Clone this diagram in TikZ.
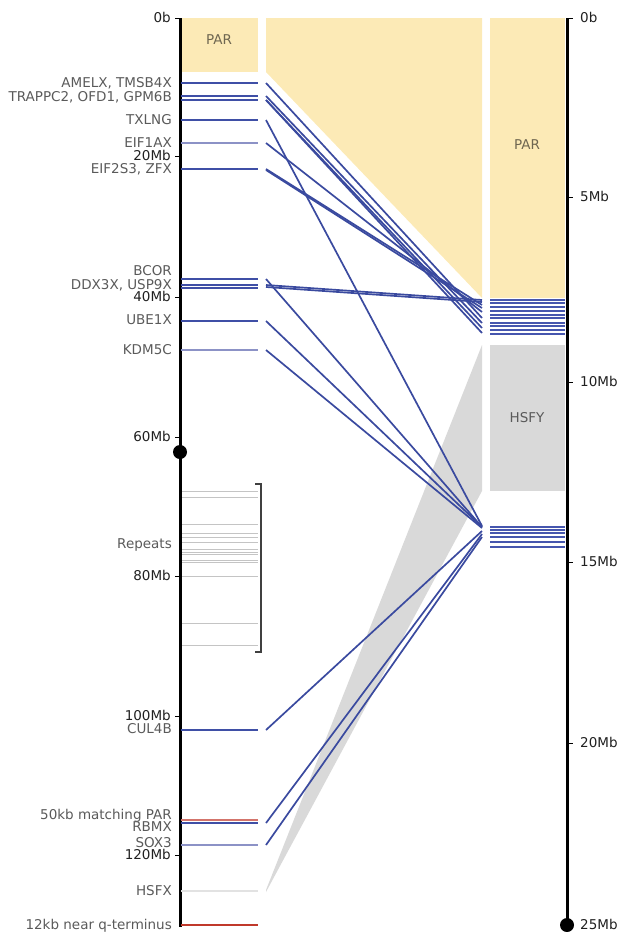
\documentclass[tikz,border=0pt]{standalone}
\usepackage{fontspec}
\setmainfont{DejaVu Sans}
\usetikzlibrary{calc}
\definecolor{paryellow}{HTML}{FCEAB6}
\definecolor{hsfygray}{HTML}{D9D9D9}
\definecolor{geneblue}{HTML}{3F4FA6}
\definecolor{lightblue}{HTML}{8C92C6}
\definecolor{rightblue}{HTML}{4656AE}
\definecolor{connblue}{HTML}{3A4A9F}
\definecolor{repgray}{HTML}{C4C4C4}
\definecolor{hsfxgray}{HTML}{E2E2E2}
\definecolor{parred}{HTML}{C0392B}
\definecolor{labgray}{HTML}{5A5A5A}
\definecolor{pargray}{HTML}{6E6650}
\definecolor{tickblack}{HTML}{202020}

\begin{document}
\begin{tikzpicture}[
    x=1pt, y=-1pt,
    every node/.style={font=\fontsize{13.5}{15}\selectfont, inner sep=0pt,
        text height=9.7pt, text depth=0pt},
    genelabel/.style={anchor=east, text=labgray},
    ticklabel/.style={anchor=east, text=tickblack},
    rticklabel/.style={anchor=west, text=tickblack},
    regionlabel/.style={text=#1},
    axisline/.style={line width=3pt, black},
    tickmark/.style={line width=1pt, black},
    repbar/.style={line width=1pt, draw=repgray},
    conn/.style={line width=1.7pt, draw=connblue},
]
\useasboundingbox (0,0) rectangle (618,932);

% === Regions (PAR and HSFX/HSFY) ===
\fill[paryellow] (181,18) rectangle (258,72);
\fill[paryellow] (266,18) -- (482,18) -- (482,298) -- (266,72) -- cycle;
\fill[paryellow] (490,18) rectangle (565,298);
\fill[hsfygray] (490,345) rectangle (565,491);
\fill[hsfygray] (266,890) -- (482,345) -- (482,491) -- (266,892) -- cycle;
\node[regionlabel=pargray] (parX) at (219,40) {PAR};
\node[regionlabel=pargray] (parY) at (527,145) {PAR};
\node[regionlabel=labgray] (hsfy) at (527,418) {HSFY};

% === X chromosome (left) ===
\draw[axisline] (180,18) -- (180,927);
\fill (180,452) circle (7pt);
\foreach \y/\t in {18/0b, 156/20Mb, 297/40Mb, 437/60Mb, 576/80Mb, 716/100Mb, 855/120Mb} {
    \draw[tickmark] (175,\y) -- (180,\y);
    \node[ticklabel] (xt-\t) at (171,\y) {\t};
}

% gene bars
\foreach \y/\c/\w in {83/geneblue/1.8, 96/geneblue/2.2, 100/geneblue/2.2, 120/geneblue/2.2,
    143/lightblue/1.4, 169/geneblue/2.4, 279/geneblue/2.2, 285/geneblue/2.2, 288/geneblue/2.2,
    321/geneblue/2.2, 350/lightblue/1.4, 730/geneblue/2.2, 823/geneblue/2.2, 845/lightblue/1.7,
    891/hsfxgray/1.4, 925/parred/2.2}
    \draw[line width=\w pt, \c] (181,\y) -- (258,\y);
\draw[line width=1.4pt, parred!70] (181,820) -- (258,820);

% repeats
\foreach \y in {491,497,524,533,537,542,549,552,554,560,562,576,623,645}
    \draw[repbar] (182,\y) -- (258,\y);
\draw[line width=1.3pt, black!75] (255,484) -- (261,484) -- (261,652) -- (255,652);

% gene labels
\node[genelabel] (lab-amelx) at (172,83) {AMELX, TMSB4X};
\node[genelabel] (lab-trappc) at (172,97) {TRAPPC2, OFD1, GPM6B};
\node[genelabel] (lab-txlng) at (172,120) {TXLNG};
\node[genelabel] (lab-eifa) at (172,143) {EIF1AX};
\node[genelabel] (lab-eifs) at (172,169) {EIF2S3, ZFX};
\node[genelabel] (lab-bcor) at (172,271) {BCOR};
\node[genelabel] (lab-ddx) at (172,284.5) {DDX3X, USP9X};
\node[genelabel] (lab-ube) at (172,320) {UBE1X};
\node[genelabel] (lab-kdm) at (172,350) {KDM5C};
\node[genelabel] (lab-rep) at (172,544) {Repeats};
\node[genelabel] (lab-cul) at (172,729) {CUL4B};
\node[genelabel] (lab-par) at (172,815) {50kb matching PAR};
\node[genelabel] (lab-rbmx) at (172,827) {RBMX};
\node[genelabel] (lab-sox) at (172,843) {SOX3};
\node[genelabel] (lab-hsfx) at (172,891) {HSFX};
\node[genelabel] (lab-qter) at (172,925) {12kb near q-terminus};

% === Y chromosome (right) ===
\draw[axisline] (567,18) -- (567,925);
\fill (567,925) circle (7pt);
\foreach \y/\t in {18/0b, 197/5Mb, 382/10Mb, 562/15Mb, 743/20Mb, 925/25Mb} {
    \draw[tickmark] (567,\y) -- (573,\y);
    \node[rticklabel] (yt-\t) at (580,\y) {\t};
}
\foreach \y/\w in {300/2.4, 303/2.4, 307/1.6, 311/1.6, 315/1.6, 318/1.6, 323/1.6,
    326/1.6, 330/1.6, 334/1.6, 527/2.4, 530/2.4, 533/1.6, 537/1.6, 542/1.6, 547/1.6}
    \draw[line width=\w pt, rightblue] (490,\y) -- (565,\y);

% === Connectors X -> Y ===
\foreach \g/\ly/\ry in {amelx/83/318, trappc/96/323, ofd/100/328, gpm/100/333,
    txlng/120/526, eifa/143/312, eifs/169/305, zfx/170/308, bcor/279/527,
    ddx/285/300, usp/287/302, ube/321/527, kdm/350/528, cul/730/531,
    rbmx/823/534, sox/845/537} {
    \coordinate (x-\g) at (266,\ly);
    \coordinate (y-\g) at (482,\ry);
    \draw[conn] (x-\g) -- (y-\g);
}

\end{tikzpicture}
\end{document}
